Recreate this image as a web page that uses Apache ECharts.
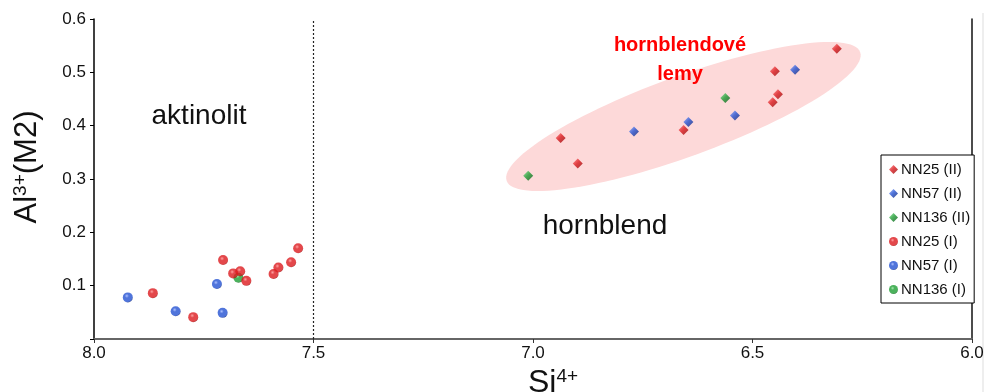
<!DOCTYPE html>
<html>
<head>
<meta charset="utf-8">
<script src="https://cdn.jsdelivr.net/npm/echarts@6/dist/echarts.min.js"></script>
<style>
  html, body { margin: 0; padding: 0; background: #fff; }
  #chart { width: 986px; height: 392px; }
</style>
</head>
<body>
<div id="chart"></div>
<script>
// ---- data (Si4+, Al3+(M2)) ----
const seriesNames = ['NN25 (II)', 'NN57 (II)', 'NN136 (II)', 'NN25 (I)', 'NN57 (I)', 'NN136 (I)'];
const nn25_II = [[6.937, 0.377], [6.898, 0.329], [6.657, 0.392], [6.454, 0.444], [6.442, 0.459], [6.449, 0.502], [6.308, 0.544]];
const nn57_II = [[6.770, 0.389], [6.646, 0.407], [6.540, 0.419], [6.403, 0.505]];
const nn136_II = [[7.011, 0.306], [6.562, 0.452]];
const nn25_I = [[7.866, 0.086], [7.774, 0.041], [7.706, 0.148], [7.683, 0.123], [7.667, 0.127], [7.653, 0.109], [7.591, 0.122], [7.580, 0.134], [7.551, 0.144], [7.535, 0.170]];
const nn57_I = [[7.923, 0.078], [7.814, 0.052], [7.720, 0.103], [7.707, 0.049]];
const nn136_I = [[7.671, 0.115]];
// ellipse "hornblendové lemy": major-axis end points in data units
const ellipseEnds = [[7.060, 0.2966, 6.2548, 0.5378]];
const ellipseRatio = 0.213; // minor / major
const dividerSi = [7.5];
const xTickValues = [8.0, 7.5, 7.0, 6.5, 6.0];
const yTickValues = [0.1, 0.2, 0.3, 0.4, 0.5, 0.6];

function sphere(base, light, dark) {
  return {
    type: 'radial', x: 0.4, y: 0.35, r: 0.7,
    colorStops: [{ offset: 0, color: light }, { offset: 0.3, color: base }, { offset: 0.8, color: base }, { offset: 1, color: dark }]
  };
}
function gem(base, light, dark) {
  return {
    type: 'linear', x: 0, y: 0, x2: 1, y2: 1,
    colorStops: [{ offset: 0, color: light }, { offset: 0.45, color: base }, { offset: 1, color: dark }]
  };
}
const RED = ['#dc1a1e', '#ff8a8a', '#8c0808'];
const BLUE = ['#2452d2', '#9ab2ff', '#0c2270'];
const GREEN = ['#1f9e34', '#90e59c', '#085214'];

function diamondSeries(name, data, c, z) {
  return {
    name, type: 'scatter', data, symbol: 'diamond', symbolSize: 10, z,
    itemStyle: { color: gem(c[0], c[1], c[2]) }
  };
}
function sphereSeries(name, data, c, z) {
  return {
    name, type: 'scatter', data, symbol: 'circle', symbolSize: 10, z,
    itemStyle: { color: sphere(c[0], c[1], c[2]) }
  };
}

const chart = echarts.init(document.getElementById('chart'), null, { renderer: 'canvas' });
const FONT = 'Liberation Sans, Arial, sans-serif';

const option = {
  animation: false,
  backgroundColor: '#fff',
  grid: { left: 94, top: 19, right: 14, bottom: 53, show: false, outerBoundsMode: 'none', containLabel: false },
  legend: {
    data: seriesNames,
    orient: 'vertical',
    left: 881, top: 155,
    itemWidth: 9, itemHeight: 9, itemGap: 9,
    padding: [7, 4, 6, 8],
    borderColor: '#000', borderWidth: 1,
    backgroundColor: '#fff',
    textStyle: { fontFamily: FONT, fontSize: 15, color: '#111', padding: [0, 0, 0, -2] }
  },
  xAxis: [{
    type: 'value', min: 6, max: 8, interval: 0.5, inverse: true,
    name: '{b|Si}{s|4+}',
    nameLocation: 'middle', nameGap: 17,
    nameTextStyle: {
      padding: [0, 0, 0, 40],
      rich: {
        b: { fontFamily: FONT, fontSize: 32, color: '#111' },
        s: { fontFamily: FONT, fontSize: 19, color: '#111', verticalAlign: 'top', padding: [0, 0, 14, 0] }
      }
    },
    axisLine: { show: true, lineStyle: { color: '#333', width: 1.5 } },
    axisTick: { show: true, inside: false, length: 4, lineStyle: { color: '#333' } },
    axisLabel: {
      margin: 6, fontFamily: FONT, fontSize: 17, color: '#111',
      formatter: v => xTickValues.some(t => Math.abs(t - v) < 1e-9) ? v.toFixed(1) : ''
    },
    splitLine: { show: false }
  }, {
    type: 'value', min: 6, max: 8, inverse: true, position: 'top',
    axisLine: { show: true, lineStyle: { color: '#666', width: 2 } },
    axisTick: { show: false }, axisLabel: { show: false }, splitLine: { show: false }
  }],
  yAxis: [{
    type: 'value', min: 0, max: 0.6, interval: 0.1,
    name: '{b|Al}{s|3+}{b|(M2)}',
    nameLocation: 'middle', nameGap: 50,
    nameTextStyle: {
      padding: [0, 0, 0, 24],
      rich: {
        b: { fontFamily: FONT, fontSize: 31, color: '#111' },
        s: { fontFamily: FONT, fontSize: 19, color: '#111', verticalAlign: 'top', padding: [0, 0, 14, 0] }
      }
    },
    axisLine: { show: true, lineStyle: { color: '#000', width: 1.5 } },
    axisTick: { show: true, inside: false, length: 4, lineStyle: { color: '#000' } },
    axisLabel: {
      margin: 8, fontFamily: FONT, fontSize: 17, color: '#111',
      formatter: v => yTickValues.some(t => Math.abs(t - v) < 1e-9) ? v.toFixed(1) : ''
    },
    splitLine: { show: false }
  }, {
    type: 'value', min: 0, max: 0.6, position: 'right',
    axisLine: { show: true, lineStyle: { color: '#111', width: 1.5 } },
    axisTick: { show: false }, axisLabel: { show: false }, splitLine: { show: false }
  }],
  graphic: [
    { type: 'line', silent: true, shape: { x1: 983, y1: 13, x2: 983, y2: 392 }, style: { stroke: '#ddd', lineWidth: 1 } },
    { type: 'text', silent: true, style: { x: 199, y: 116, text: 'aktinolit', fontFamily: FONT, fontSize: 28, fill: '#111', textAlign: 'center', textVerticalAlign: 'middle' } },
    { type: 'text', silent: true, style: { x: 605, y: 226, text: 'hornblend', fontFamily: FONT, fontSize: 28, fill: '#111', textAlign: 'center', textVerticalAlign: 'middle' } },
    { type: 'text', silent: true, z: 10, style: { x: 680, y: 45, text: 'hornblendové', fontFamily: FONT, fontSize: 20, fontWeight: 'bold', fill: '#ff0000', textAlign: 'center', textVerticalAlign: 'middle' } },
    { type: 'text', silent: true, z: 10, style: { x: 680, y: 74, text: 'lemy', fontFamily: FONT, fontSize: 20, fontWeight: 'bold', fill: '#ff0000', textAlign: 'center', textVerticalAlign: 'middle' } }
  ],
  series: [
    {
      type: 'custom', silent: true, z: 0,
      data: ellipseEnds,
      encode: { x: [0, 2], y: [1, 3] },
      renderItem: function (params, api) {
        const p1 = api.coord([api.value(0), api.value(1)]);
        const p2 = api.coord([api.value(2), api.value(3)]);
        const cx = (p1[0] + p2[0]) / 2, cy = (p1[1] + p2[1]) / 2;
        const dx = p2[0] - p1[0], dy = p2[1] - p1[1];
        const a = Math.sqrt(dx * dx + dy * dy) / 2;
        const b = a * ellipseRatio;
        const ang = Math.atan2(dy, dx);
        const pts = [];
        for (let i = 0; i < 120; i++) {
          const t = i / 120 * Math.PI * 2;
          const ex = a * Math.cos(t), ey = b * Math.sin(t);
          pts.push([cx + ex * Math.cos(ang) - ey * Math.sin(ang), cy + ex * Math.sin(ang) + ey * Math.cos(ang)]);
        }
        return { type: 'polygon', shape: { points: pts }, style: { fill: '#fdd9d9', stroke: null } };
      },
      markLine: {
        silent: true, symbol: 'none', animation: false,
        label: { show: false },
        lineStyle: { type: [2, 2], color: '#222', width: 1.2 },
        data: dividerSi.map(v => ({ xAxis: v }))
      }
    },
    diamondSeries(seriesNames[0], nn25_II, RED, 4),
    diamondSeries(seriesNames[1], nn57_II, BLUE, 4),
    diamondSeries(seriesNames[2], nn136_II, GREEN, 4),
    sphereSeries(seriesNames[3], nn25_I, RED, 4),
    sphereSeries(seriesNames[4], nn57_I, BLUE, 4),
    sphereSeries(seriesNames[5], nn136_I, GREEN, 3)
  ]
};
chart.setOption(option);
</script>
</body>
</html>
